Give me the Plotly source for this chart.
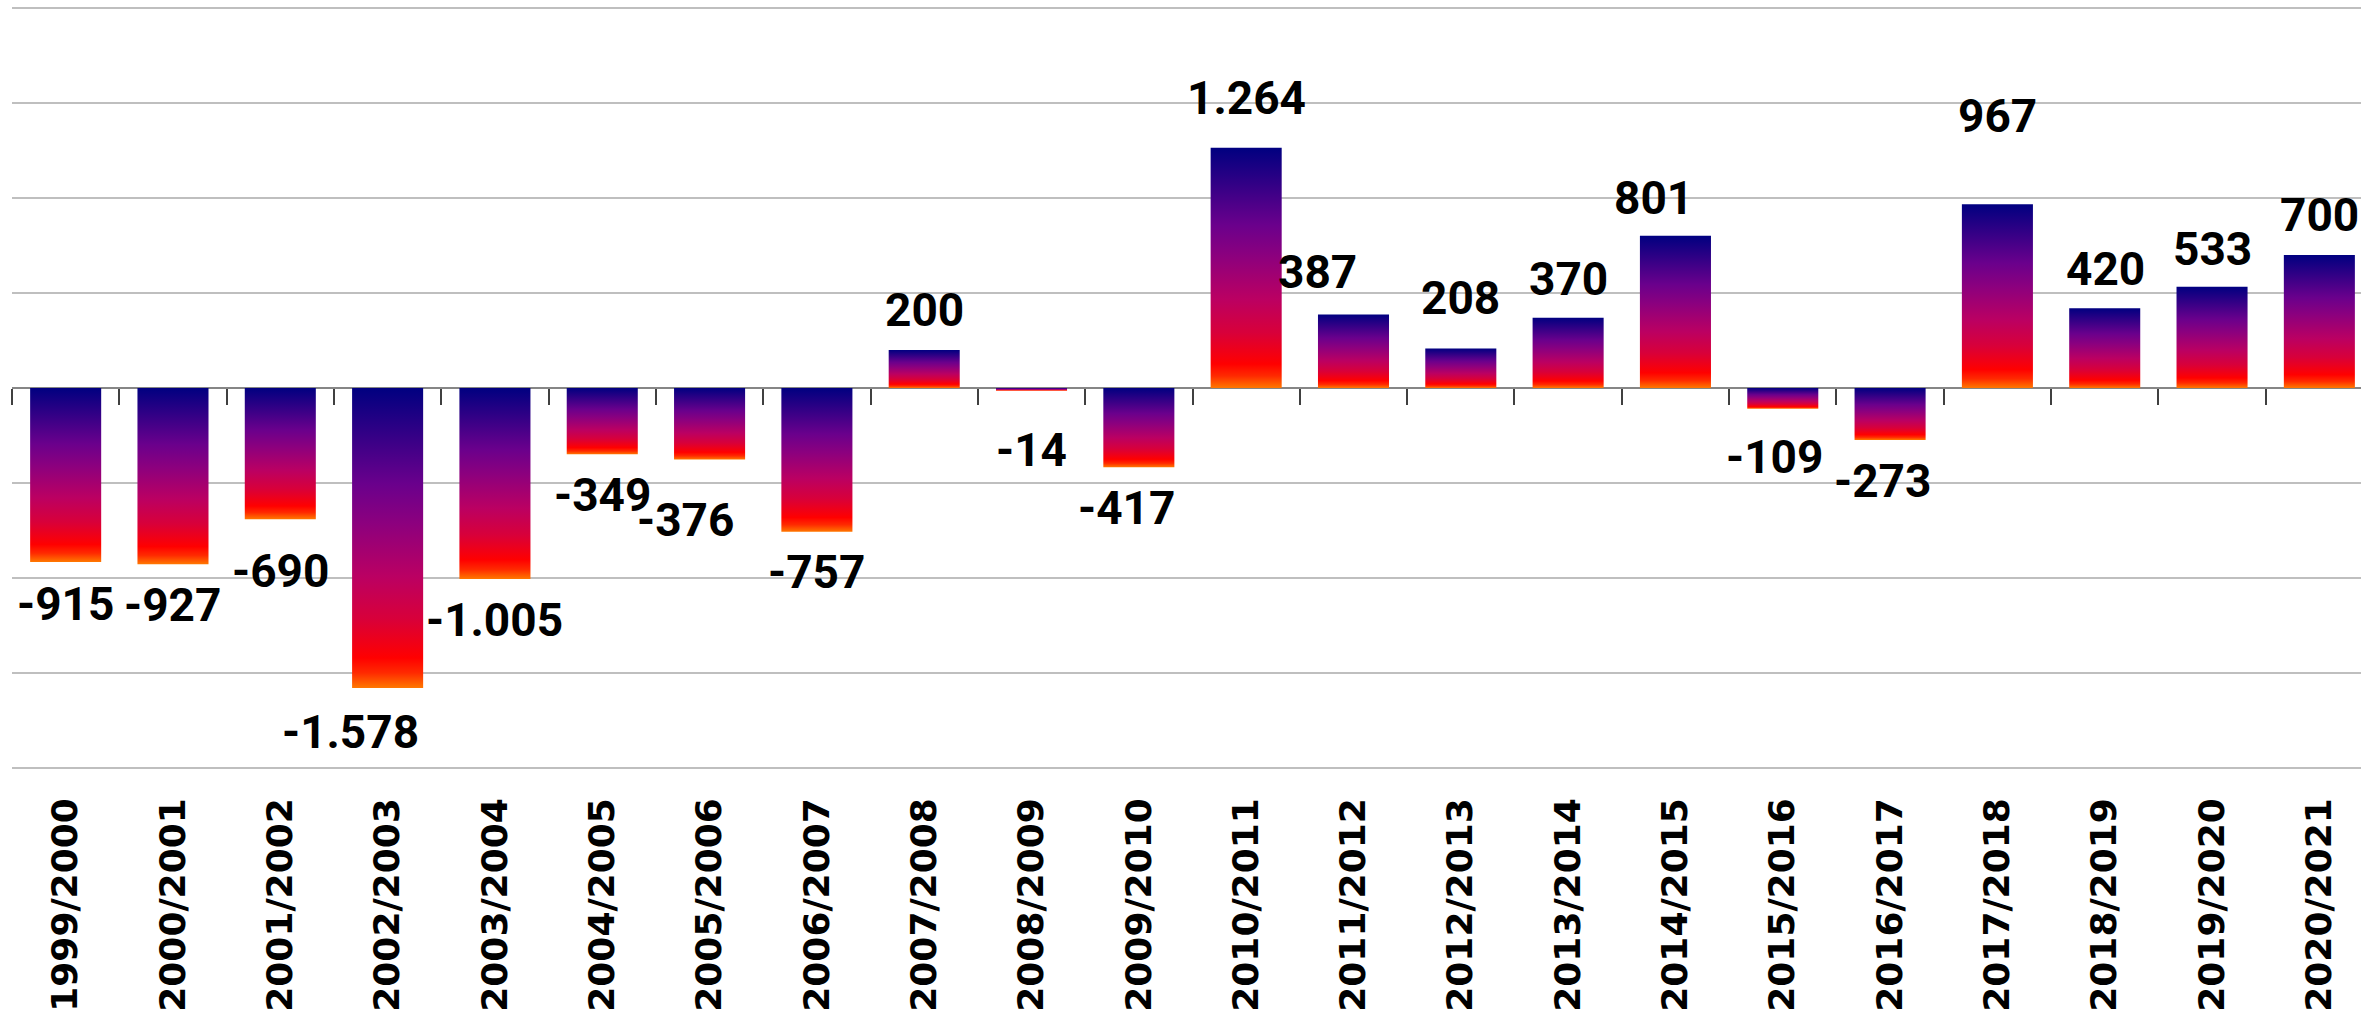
import plotly.graph_objects as go

# Saisons et solde annuel
SEASONS = [
    "1999/2000", "2000/2001", "2001/2002", "2002/2003", "2003/2004", "2004/2005",
    "2005/2006", "2006/2007", "2007/2008", "2008/2009", "2009/2010", "2010/2011",
    "2011/2012", "2012/2013", "2013/2014", "2014/2015", "2015/2016", "2016/2017",
    "2017/2018", "2018/2019", "2019/2020", "2020/2021",
]
VALUES = [
    -915, -927, -690, -1578, -1005, -349,
    -376, -757, 200, -14, -417, 1264,
    387, 208, 370, 801, -109, -273,
    967, 420, 533, 700,
]

# décalages des étiquettes (px) : écart au bout de la barre, décalage horizontal
LABEL_GAP = [42, 41, 52, 44, 41, 41, 61, 40, 40, 59, 41, 50,
             42, 50, 39, 38, 48, 41, 88, 39, 38, 40]
LABEL_DX = [0, 0, 0, -37, 0, 0, -24, 0, 0, 0, -12, 0,
            -36, 0, 0, -22, -8, -8, 0, 1, 0, 0]

NAVY = "#000080"
GRID = "#bfbfbf"
ZERO = "#868686"

# dégradé bas (orange) -> haut (bleu marine)
FIRE = [
    [0.0, "#ff7800"],
    [0.05, "#ff2a00"],
    [0.10, "#ff0000"],
    [0.23, "#d8003a"],
    [0.37, "#bb0062"],
    [0.55, "#8c007e"],
    [0.68, "#6a008c"],
    [1.0, NAVY],
]

BAR_W = 0.662


def fmt(v):
    return f"{v:,}".replace(",", ".")


fig = go.Figure()

for i, v in enumerate(VALUES):
    x0, x1 = i - BAR_W / 2, i + BAR_W / 2
    fig.add_trace(go.Scatter(
        x=[x0, x1, x1, x0, x0],
        y=[0, 0, v, v, 0],
        mode="lines",
        line=dict(width=0),
        fill="toself",
        fillgradient=dict(type="vertical", colorscale=FIRE,
                          start=min(0, v), stop=max(0, v)),
        hoverinfo="skip",
        showlegend=False,
    ))
    sign = 1 if v >= 0 else -1
    fig.add_annotation(
        x=i, y=v, text=fmt(v), showarrow=False,
        xshift=LABEL_DX[i], yshift=sign * LABEL_GAP[i],
        font=dict(family="Roboto", size=46, color="black", weight="bold"),
        xanchor="center", yanchor="middle",
    )

# trace vide pour que l'axe des graduations (sur la ligne zéro) soit dessiné
fig.add_trace(go.Scatter(
    x=[0], y=[0], xaxis="x2", mode="markers",
    marker=dict(opacity=0), hoverinfo="skip", showlegend=False,
))

x_range = [-0.5, 21.388]

fig.update_layout(
    width=2361,
    height=1021,
    margin=dict(l=12, r=0, t=6, b=251),
    paper_bgcolor="white",
    plot_bgcolor="white",
    showlegend=False,
    xaxis=dict(
        range=x_range,
        tickmode="array",
        tickvals=list(range(len(SEASONS))),
        ticktext=SEASONS,
        tickangle=-90,
        tickfont=dict(family="DejaVu Sans", size=36, color="black", weight="bold"),
        ticks="",
        ticklabelstandoff=20,
        showgrid=False,
        zeroline=False,
        showline=False,
    ),
    xaxis2=dict(
        range=x_range,
        overlaying="x",
        anchor="free",
        position=0.5,
        side="bottom",
        tickmode="array",
        tickvals=[i - 0.5 for i in range(len(SEASONS))],
        ticks="outside",
        ticklen=16,
        tickwidth=1.5,
        tickcolor="#404040",
        showticklabels=False,
        showgrid=False,
        zeroline=False,
        showline=False,
    ),
    yaxis=dict(
        range=[-2010, 2010],
        dtick=500,
        tick0=0,
        showticklabels=False,
        gridcolor=GRID,
        gridwidth=2,
        zeroline=True,
        zerolinecolor=ZERO,
        zerolinewidth=2,
        showline=False,
    ),
)

fig.write_html(
    "out.html",
    config={"displayModeBar": False},
    post_script="document.body.style.margin='0px'; document.body.style.overflow='hidden';",
)
